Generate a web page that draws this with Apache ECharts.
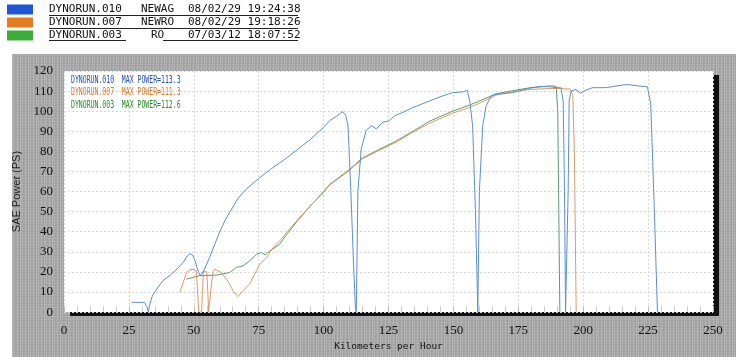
<!DOCTYPE html>
<html><head><meta charset="utf-8">
<script src="https://cdn.jsdelivr.net/npm/echarts@6/dist/echarts.min.js"></script>
<style>html,body{margin:0;padding:0;background:#fff}#c{width:736px;height:357px}</style>
</head><body><div id="c"></div><script>
// ---- data ----
const runNames = ['DYNORUN.010', 'DYNORUN.007', 'DYNORUN.003'];
const runTags = ['NEWAG', 'NEWRO', 'RO'];
const runDates = ['08/02/29 19:24:38', '08/02/29 19:18:26', '07/03/12 18:07:52'];
const maxPower = [113.3, 111.3, 112.6];
const xTicks = [0, 25, 50, 75, 100, 125, 150, 175, 200, 225, 250];
const yTicks = [0, 10, 20, 30, 40, 50, 60, 70, 80, 90, 100, 110, 120];

const speed010 = [26.0,31.0,32.0,32.5,33.0,34.0,36.0,38.0,41.0,44.0,46.0,47.5,48.5,49.5,50.5,51.5,52.5,54.0,56.0,58.0,60.0,62.0,64.0,67.0,70.0,75.0,80.0,85.0,90.0,95.0,100.0,102.3,105.0,107.4,108.5,109.4,110.5,111.5,112.3,112.6,113.2,114.5,116.4,118.3,120.3,122.8,125.4,127.3,130.5,134.4,140.8,145.9,149.7,153.6,155.3,156.3,157.4,158.5,159.4,160.0,161.3,162.6,164.5,166.4,172.8,179.2,183.0,186.9,189.5,191.4,192.3,192.8,193.2,193.8,194.2,194.6,195.3,197.2,199.0,201.0,203.6,208.7,215.1,217.0,221.5,224.7,226.0,227.3,228.6];
const power010 = [4.9,4.8,2.5,0,3.5,8.0,12.0,15.5,18.5,22.0,25.0,28.0,29.0,28.5,25.5,21.0,18.0,21.0,27.0,33.5,40.0,45.5,50.0,56.5,61.0,66.5,71.5,76.0,81.0,86.0,92.0,95.2,97.5,99.8,98.0,92.8,60,25,1,0,60,81.3,90.3,92.8,91.2,94.5,95.2,97.7,99.4,101.8,105.1,107.6,109.2,109.6,110.4,105,92.8,50,0,60,92.8,102.6,107.6,108.4,109.2,111.4,112.2,112.2,111.7,111.7,105,60,0,0,60,105,110,110.8,108.9,110.5,111.7,111.7,113.0,113.3,112.5,112.2,104,55,0];

const speed007 = [44.6,46.0,47.2,48.5,49.7,51.0,51.4,51.9,53.0,53.7,54.2,55.0,55.4,55.7,56.4,56.9,57.4,58.1,60.6,62.6,63.8,65.1,67.0,69.0,71.5,74.1,75.4,78.0,80.5,83.0,86.0,90.0,95.0,100.0,102.3,110.0,115.1,121.5,128.0,134.4,140.8,149.7,156.2,162.6,166.4,172.8,179.2,185.6,190.0,195.0,196.0,196.6,197.3];
const power007 = [9.9,15.0,19.7,21.0,21.3,20.5,12.0,0,0,20.5,20.5,20.0,10.0,0,0,15.0,20.0,21.3,19.7,16.4,14.0,10.7,7.7,10.7,14.0,20.5,23.8,27.0,32.0,35.3,40.0,46.0,53.0,59.5,63.2,70.6,76.4,80.5,84.6,89.5,94.0,99.0,101.8,105.5,108.0,109.7,110.8,111.2,111.3,111.0,108.0,80.0,0];

const speed003 = [47.2,52.3,58.7,63.8,66.4,69.0,71.5,74.1,76.0,77.5,79.2,83.0,86.0,90.0,95.0,100.0,102.3,110.0,115.1,121.5,128.0,134.4,140.8,149.7,156.2,162.6,166.4,172.8,179.2,185.6,188.0,189.6,190.2,190.6,191.0];
const power003 = [16.4,18.1,18.4,19.7,22.2,23.0,25.5,28.7,29.6,28.5,30.4,33.7,39.0,45.5,53.0,60.0,63.5,71.0,76.8,81.0,85.2,90.0,95.0,100.0,103.0,106.5,108.6,110.2,111.6,112.4,112.6,112.3,100.0,50.0,0];

// ---- styles ----
const lineColors = ['#5b8fd0', '#d99b68', '#5f9a70'];
const swatchColors = ['#1f56d6', '#e57c1f', '#3aad3a'];
const noteColors = ['#1f4fb0', '#d9762a', '#2a8a2a'];

const pairs = (xs, ys) => xs.map((x, i) => [x, ys[i]]);
const seriesData = [pairs(speed010, power010), pairs(speed007, power007), pairs(speed003, power003)];

function makeStripes() {
  const c = document.createElement('canvas'); c.width = 8; c.height = 3;
  const g = c.getContext('2d');
  ['#a3a3a3','#b1b1b1','#a7a7a7','#9b9b9b','#b3b3b3','#a5a5a5','#adadad','#9f9f9f'].forEach((col, i) => { g.fillStyle = col; g.fillRect(i, 0, 1, 3); });
  g.fillStyle = 'rgba(255,255,255,0.08)'; g.fillRect(0, 1, 8, 1);
  return c;
}

const chart = echarts.init(document.getElementById('c'), null, { renderer: 'canvas' });
const notes = runNames.map((n, i) => ({
  type: 'text', z: 50, x: 71, y: 80 + i * 12.5, scaleX: 0.65, silent: true,
  style: { text: n + '  MAX POWER=' + maxPower[i].toFixed(1), font: '10px "DejaVu Sans Mono"', fill: noteColors[i], verticalAlign: 'middle' }
}));
const underlines = [[49, 298, 15.5], [49, 298, 28.5], [49, 126, 40.5], [163, 298, 40.5]].map(u => ({
  type: 'line', z: 50, silent: true, shape: { x1: u[0], y1: u[2], x2: u[1], y2: u[2] }, style: { stroke: '#222', lineWidth: 1 }
}));

chart.setOption({
  animation: false,
  backgroundColor: '#fff',
  graphic: [
    { type: 'rect', z: -10, silent: true, shape: { x: 12, y: 54, width: 724, height: 303 }, style: { fill: { image: makeStripes(), repeat: 'repeat' } } },
    ...underlines,
    ...notes
  ],
  legend: {
    orient: 'vertical', left: 7, top: 3, padding: 0, itemGap: 0, itemWidth: 26, itemHeight: 10,
    icon: 'rect', selectedMode: false,
    data: runNames.map((n, i) => ({ name: n, itemStyle: { color: swatchColors[i], borderWidth: 0 } })),
    formatter: name => {
      const i = runNames.indexOf(name);
      return '{p| }{a|' + runNames[i] + '}{b|' + runTags[i] + '}{p| }{c|' + runDates[i] + '}';
    },
    textStyle: {
      fontFamily: 'DejaVu Sans Mono', fontSize: 11, color: '#111', lineHeight: 13,
      rich: {
        p: { width: 11, fontFamily: 'DejaVu Sans Mono', fontSize: 11 },
        a: { width: 89, fontFamily: 'DejaVu Sans Mono', fontSize: 11, color: '#111' },
        b: { width: 39, align: 'right', fontFamily: 'DejaVu Sans Mono', fontSize: 11, color: '#111' },
        c: { fontFamily: 'DejaVu Sans Mono', fontSize: 11, color: '#111' }
      }
    }
  },
  grid: {
    left: 64, right: 23, top: 71, bottom: 42, show: true, backgroundColor: '#ffffff', borderWidth: 0,
    shadowColor: '#111111', shadowOffsetX: 6, shadowOffsetY: 4, shadowBlur: 0
  },
  xAxis: {
    type: 'value', min: xTicks[0], max: xTicks[xTicks.length - 1], interval: xTicks[1] - xTicks[0],
    name: 'Kilometers per Hour', nameLocation: 'middle', nameGap: 28,
    nameTextStyle: { fontFamily: 'DejaVu Sans Mono', fontSize: 9.5, color: '#111' },
    axisLine: { show: false },
    axisTick: { show: true, inside: true, length: 6, lineStyle: { color: '#bbbbbb' } },
    minorTick: { show: true, splitNumber: 5, length: 6, lineStyle: { color: '#cccccc' } },
    axisLabel: { margin: 12, fontFamily: 'Liberation Sans Narrow', fontSize: 13, color: '#111' },
    splitLine: { show: true, lineStyle: { color: '#d9d9d9', width: 1, type: [2, 2] } }
  },
  yAxis: {
    type: 'value', min: yTicks[0], max: yTicks[yTicks.length - 1], interval: yTicks[1] - yTicks[0],
    name: 'SAE Power (PS)', nameLocation: 'middle', nameGap: 36, nameRotate: 90,
    nameTextStyle: { fontFamily: 'Liberation Sans', fontSize: 11, color: '#222' },
    axisLine: { show: false }, axisTick: { show: false },
    axisLabel: { margin: 11, fontFamily: 'Liberation Sans Narrow', fontSize: 13, color: '#111' },
    splitLine: { show: true, lineStyle: { color: '#d9d9d9', width: 1, type: [2, 2] } }
  },
  series: runNames.map((n, i) => ({
    name: n, type: 'line', data: seriesData[i], showSymbol: false, symbol: 'none',
    lineStyle: { color: lineColors[i], width: 1 }, itemStyle: { color: lineColors[i] },
    z: 3 - i
  }))
});
</script></body></html>
